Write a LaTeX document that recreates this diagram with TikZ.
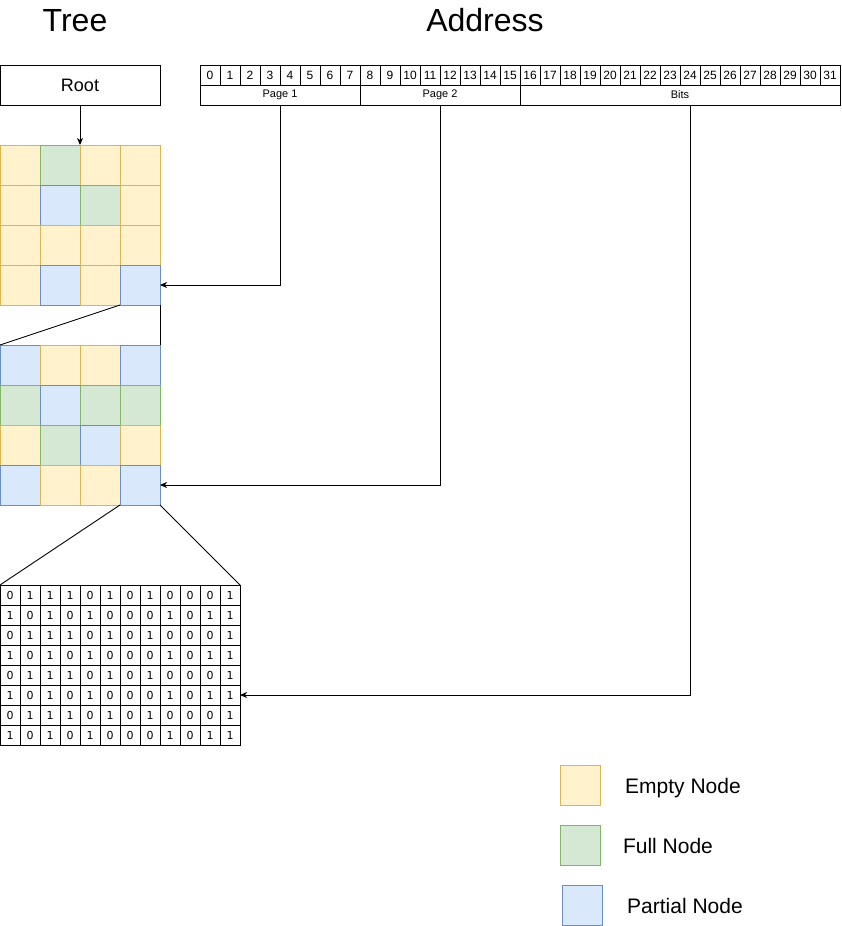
\documentclass[tikz,border=0pt]{standalone}
\usepackage{fontspec}
\setmainfont{Liberation Sans}
\newfontfamily\dvsans{DejaVu Sans}
\usetikzlibrary{arrows.meta}
\definecolor{fY}{HTML}{FFF2CC}\definecolor{dY}{HTML}{D6B656}
\definecolor{fG}{HTML}{D5E8D4}\definecolor{dG}{HTML}{82B366}
\definecolor{fB}{HTML}{DAE8FC}\definecolor{dB}{HTML}{6C8EBF}
\tikzset{
  every node/.style={inner sep=0pt, outer sep=0pt},
  ln/.style={line width=0.9pt, draw=black},
  arr/.style={ln, -{Stealth[length=7pt,width=6pt,inset=2pt]}},
  cell/.style={line width=0.9pt, minimum width=40pt, minimum height=40pt, anchor=north west},
  addrcell/.style={ln, minimum width=20pt, minimum height=20pt, anchor=north west, font=\fontsize{12}{14}\selectfont},
  bitcell/.style={ln, minimum width=20pt, minimum height=20pt, anchor=north west, font=\dvsans\fontsize{11}{13}\selectfont},
  title/.style={font=\fontsize{32}{38}\selectfont},
  legtext/.style={font=\fontsize{21}{25}\selectfont, anchor=base},
}
\begin{document}
\begin{tikzpicture}[x=1pt,y=-1pt]
\useasboundingbox (0,0) rectangle (841,926);
% titles
\node[title] (ttree) at (75,20.5) {Tree};
\node[title] (taddr) at (485,20.5) {Address};
% root
\node[ln, draw, minimum width=160pt, minimum height=40pt, anchor=north west, font=\fontsize{18}{22}\selectfont] (root) at (0,65) {Root};
% address bits
\foreach \i in {0,...,31}{
  \node[addrcell, draw] (a\i) at ({200+20*\i},65) {\i};
}
\node[ln, draw, minimum width=160pt, minimum height=20pt, anchor=north west, font=\fontsize{11}{13}\selectfont] (p1) at (200,85) {Page 1};
\node[ln, draw, minimum width=160pt, minimum height=20pt, anchor=north west, font=\fontsize{11}{13}\selectfont] (p2) at (360,85) {Page 2};
\node[ln, draw, minimum width=320pt, minimum height=20pt, anchor=north west, font=\fontsize{11}{13}\selectfont] (bits) at (520,85) {Bits};
% grid 1
\foreach \r/\lst in {0/{Y,G,Y,Y},1/{Y,B,G,Y},2/{Y,Y,Y,Y},3/{Y,B,Y,B}}{
  \foreach \k [count=\c from 0] in \lst {
    \node[cell, fill=f\k, draw=d\k] (g1-\r-\c) at ({40*\c},{145+40*\r}) {};
  }
}
% grid 2
\foreach \r/\lst in {0/{B,Y,Y,B},1/{G,B,G,G},2/{Y,G,B,Y},3/{B,Y,Y,B}}{
  \foreach \k [count=\c from 0] in \lst {
    \node[cell, fill=f\k, draw=d\k] (g2-\r-\c) at ({40*\c},{345+40*\r}) {};
  }
}
% bit grid
\foreach \r in {0,...,7}{
  \pgfmathtruncatemacro{\rpar}{mod(\r,2)}
  \ifnum\rpar=0 \def\lst{0,1,1,1,0,1,0,1,0,0,0,1}\else \def\lst{1,0,1,0,1,0,0,0,1,0,1,1}\fi
  \foreach \v [count=\c from 0] in \lst {
    \node[bitcell, draw] (b-\r-\c) at ({20*\c},{585+20*\r}) {\v};
  }
}
% zoom lines
\draw[ln] (g1-3-3.south west) -- (g2-0-0.north west);
\draw[ln] (g1-3-3.south east) -- (g2-0-3.north east);
\draw[ln] (g2-3-3.south west) -- (b-0-0.north west);
\draw[ln] (g2-3-3.south east) -- (b-0-11.north east);
% arrows
\draw[arr] (root.south) -- (g1-0-1.north east);
\draw[arr] (p1.south) |- (g1-3-3.east);
\draw[arr] (p2.south) |- (g2-3-3.east);
\coordinate (bitsout) at ([xshift=10pt]bits.south);
\draw[arr] (bitsout) |- (b-5-11.east);
% legend
\node[cell, fill=fY, draw=dY] (lY) at (560,765) {};
\node[cell, fill=fG, draw=dG] (lG) at (560,825) {};
\node[cell, fill=fB, draw=dB] (lB) at (562,885) {};
\node[legtext] (tY) at (683,793.5) {Empty Node};
\node[legtext] (tG) at (668,853.5) {Full Node};
\node[legtext] (tB) at (685,913.5) {Partial Node};
\end{tikzpicture}
\end{document}
